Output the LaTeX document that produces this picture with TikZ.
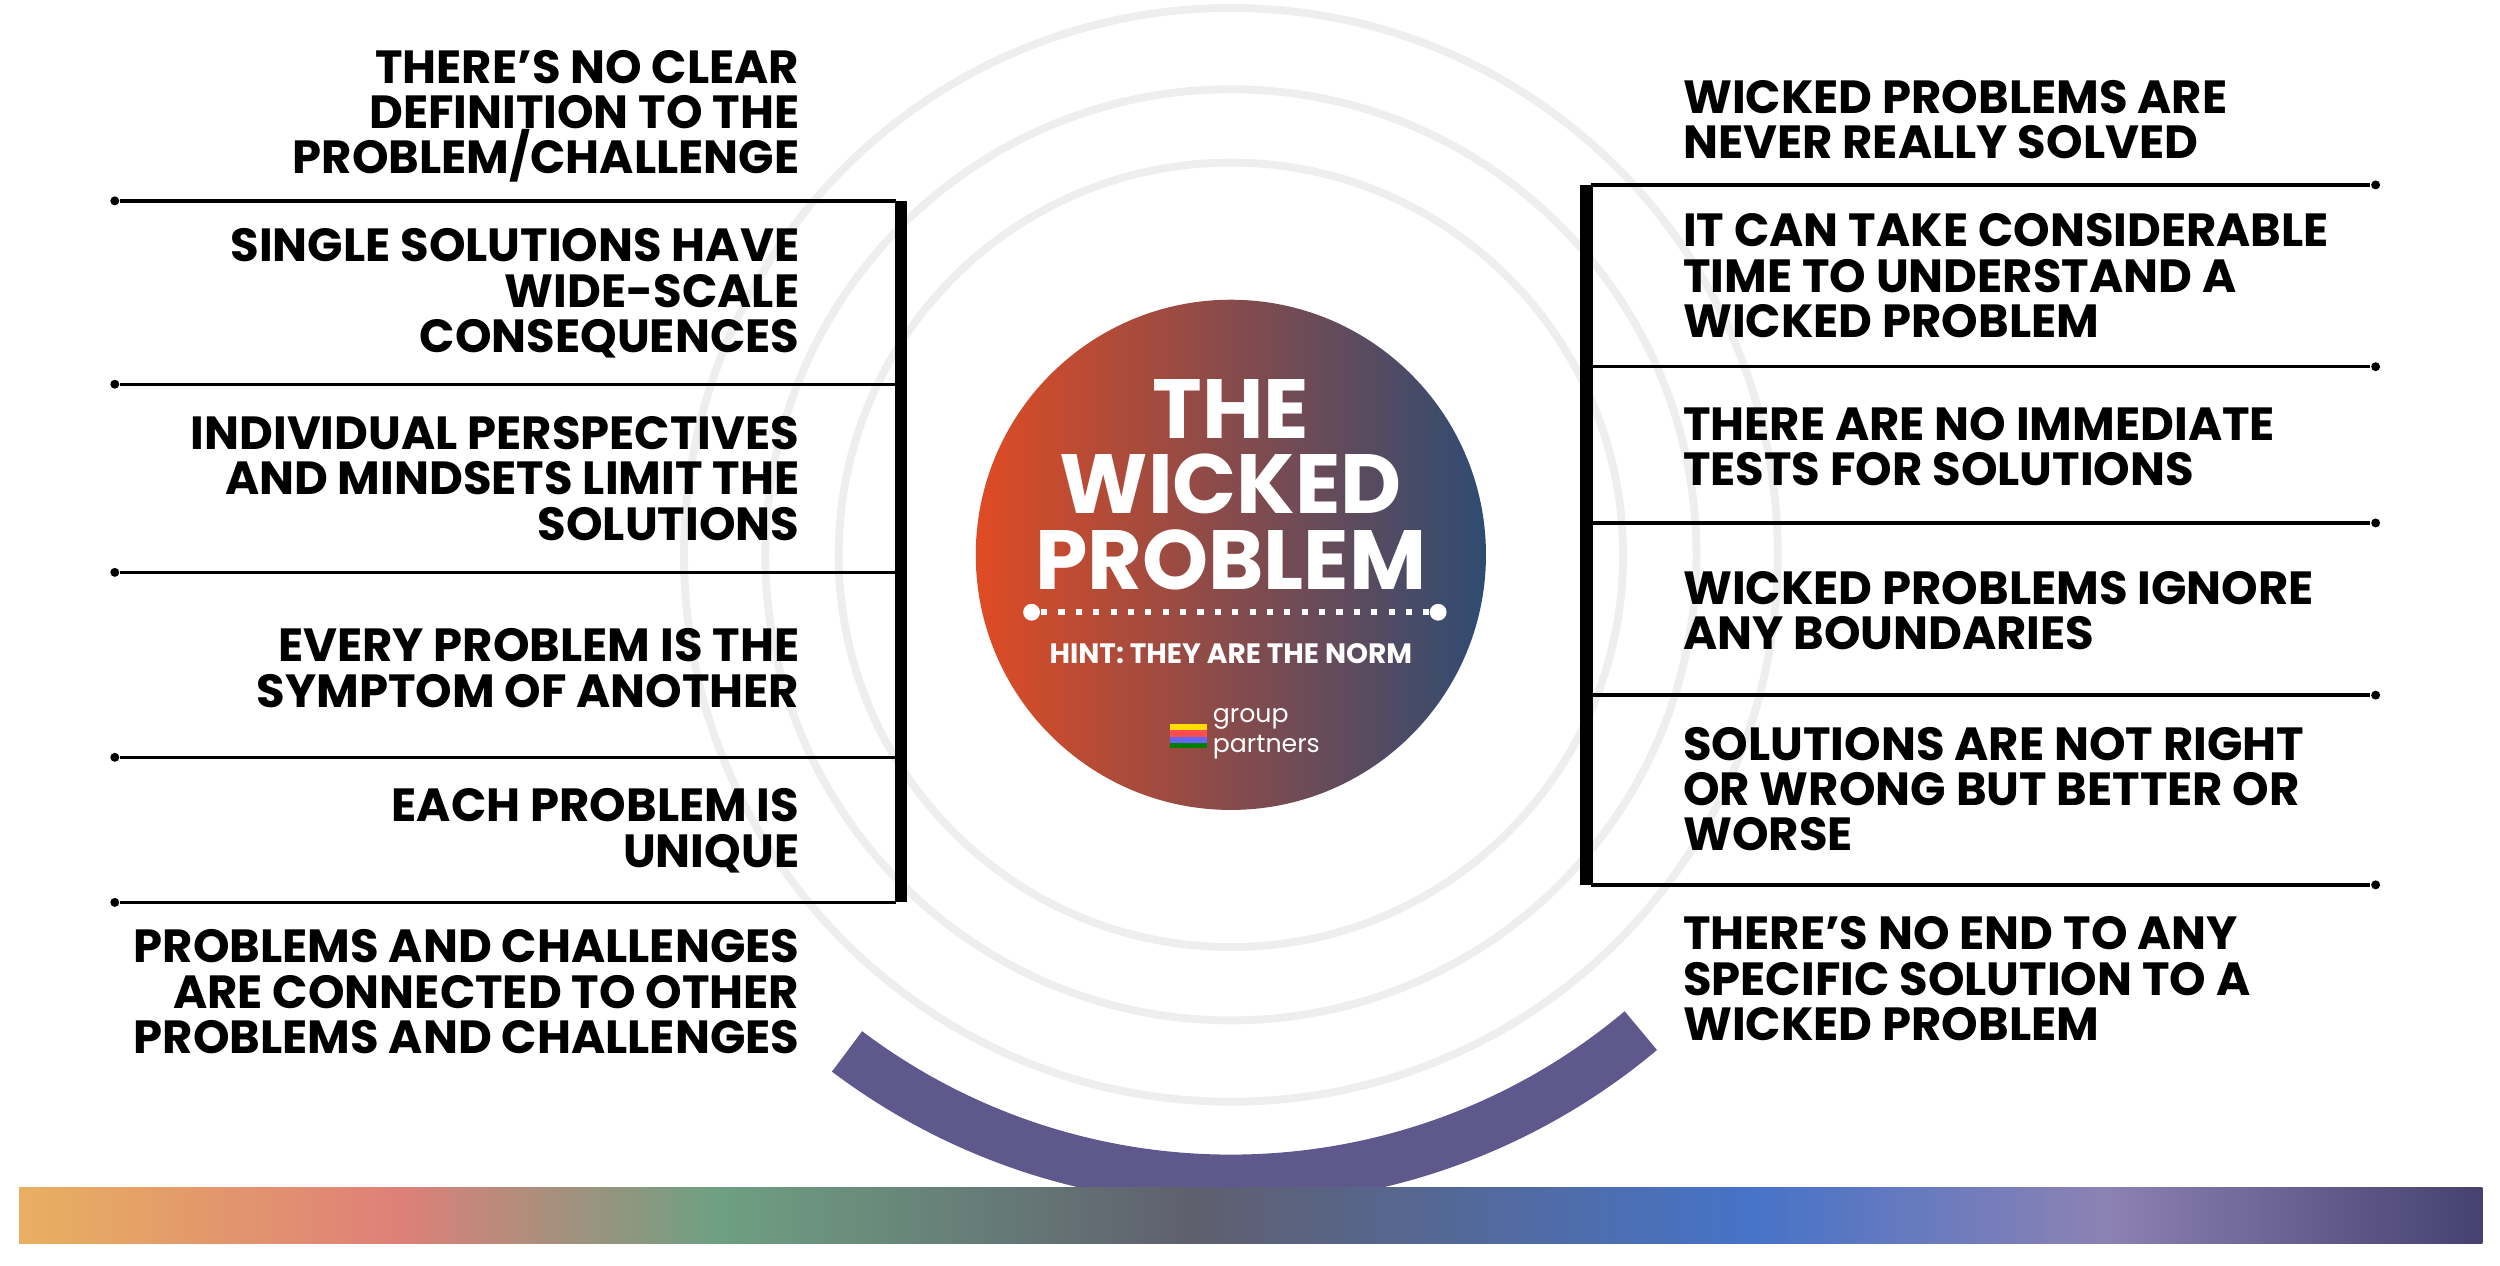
\documentclass[tikz,border=0pt]{standalone}
\usepackage{fontspec}
\setmainfont{Poppins}
\usetikzlibrary{shadings}
\definecolor{ringgray}{RGB}{238,238,238}
\definecolor{arcpurple}{RGB}{95,88,140}
\tikzset{
 lt/.style={anchor=east,align=right,font=\bfseries\fontsize{8.3}{8.1}\selectfont,inner sep=0},
 rt/.style={anchor=west,align=left,font=\bfseries\fontsize{8.3}{8.1}\selectfont,inner sep=0},
 sep/.style={line width=0.6pt},
 bar/.style={line width=2.2pt},
 dot/.style={circle,fill=black,inner sep=0,minimum size=1.6pt},
}
\begin{document}
\begin{tikzpicture}[x=0.1mm,y=-0.1mm]
\useasboundingbox (0,0) rectangle (1568,794);
\fill[white] (0,0) rectangle (1568,794);
% rings
\foreach \r in {343,292,246}{\draw[ringgray,line width=1.4pt] (772,348) circle (\r);}
% purple arc
\draw[arcpurple,line width=9pt] (772,340) ++(127:400) arc[start angle=127,end angle=50,radius=400];
% center circle
\begin{scope}
\clip (772,348) circle (160);
\shade[left color={rgb,255:red,225;green,75;blue,35},middle color={rgb,255:red,220;green,90;blue,40},right color={rgb,255:red,45;green,75;blue,115}] (610,188) rectangle (935,510);
\end{scope}
\node[coordinate] (c) at (772,348) {};
\node[white,font=\bfseries\fontsize{15}{13.5}\selectfont,align=center,inner sep=0] (title) at (772,304) {THE\\WICKED\\PROBLEM};
\node[circle,fill=white,inner sep=0,minimum size=3pt] (d1) at (647,384) {};
\node[circle,fill=white,inner sep=0,minimum size=3pt] (d2) at (902,384) {};
\draw[white,line width=1.1pt,dotted] (d1) -- (d2);
\node[white,font=\bfseries\fontsize{5}{5}\selectfont,inner sep=0] (hint) at (772,410) {HINT: THEY ARE THE NORM};
\node[white,font=\fontsize{4.5}{4}\selectfont,align=left,inner sep=0,anchor=west] (logo) at (760,460) {group\\partners};
\fill[yellow!80!orange] (734,454) rectangle (757,458);
\fill[red!70] (734,458) rectangle (757,462);
\fill[blue!60] (734,462) rectangle (757,466);
\fill[green!50!black] (734,466) rectangle (757,469);
% gradient bottom bar
\shade[left color={rgb,255:red,232;green,176;blue,96},right color={rgb,255:red,222;green,128;blue,120}] (12,745) rectangle (250,780);
\shade[left color={rgb,255:red,222;green,128;blue,120},right color={rgb,255:red,110;green,160;blue,130}] (249,745) rectangle (450,780);
\shade[left color={rgb,255:red,110;green,160;blue,130},right color={rgb,255:red,95;green,95;blue,110}] (449,745) rectangle (750,780);
\shade[left color={rgb,255:red,95;green,95;blue,110},right color={rgb,255:red,70;green,115;blue,200}] (749,745) rectangle (1100,780);
\shade[left color={rgb,255:red,70;green,115;blue,200},right color={rgb,255:red,140;green,130;blue,180}] (1099,745) rectangle (1320,780);
\shade[left color={rgb,255:red,140;green,130;blue,180},right color={rgb,255:red,70;green,65;blue,110}] (1319,745) rectangle (1557,780);
% left side
\foreach \y [count=\i] in {126,241,359,475,566}{
 \node[dot] (l\i) at (72,\y) {};
 \coordinate (le\i) at (562,\y);
 \draw[sep] (l\i) -- (le\i);}
\coordinate (lb1) at (565,126); \coordinate (lb2) at (565,566);
\draw[bar] (lb1) -- (lb2);
\node[lt] (t1) at (502,73) {THERE’S NO CLEAR\\DEFINITION TO THE\\PROBLEM/CHALLENGE};
\node[lt] (t2) at (502,184) {SINGLE SOLUTIONS HAVE\\WIDE-SCALE\\CONSEQUENCES};
\node[lt] (t3) at (502,300) {INDIVIDUAL PERSPECTIVES\\AND MINDSETS LIMIT THE\\SOLUTIONS};
\node[lt] (t4) at (502,419) {EVERY PROBLEM IS THE\\SYMPTOM OF ANOTHER};
\node[lt] (t5) at (502,521) {EACH PROBLEM IS\\UNIQUE};
\node[lt] (t6) at (502,622) {PROBLEMS AND CHALLENGES\\ARE CONNECTED TO OTHER\\PROBLEMS AND CHALLENGES};
% right side
\foreach \y [count=\i] in {116,230,328,436,555}{
 \node[dot] (r\i) at (1490,\y) {};
 \coordinate (re\i) at (998,\y);
 \draw[sep] (re\i) -- (r\i);}
\coordinate (rb1) at (995,116); \coordinate (rb2) at (995,555);
\draw[bar] (rb1) -- (rb2);
\node[rt] (s1) at (1055,75) {WICKED PROBLEMS ARE\\NEVER REALLY SOLVED};
\node[rt] (s2) at (1055,173) {IT CAN TAKE CONSIDERABLE\\TIME TO UNDERSTAND A\\WICKED PROBLEM};
\node[rt] (s3) at (1055,280) {THERE ARE NO IMMEDIATE\\TESTS FOR SOLUTIONS};
\node[rt] (s4) at (1055,383) {WICKED PROBLEMS IGNORE\\ANY BOUNDARIES};
\node[rt] (s5) at (1055,495) {SOLUTIONS ARE NOT RIGHT\\OR WRONG BUT BETTER OR\\WORSE};
\node[rt] (s6) at (1055,614) {THERE’S NO END TO ANY\\SPECIFIC SOLUTION TO A\\WICKED PROBLEM};
\end{tikzpicture}
\end{document}
